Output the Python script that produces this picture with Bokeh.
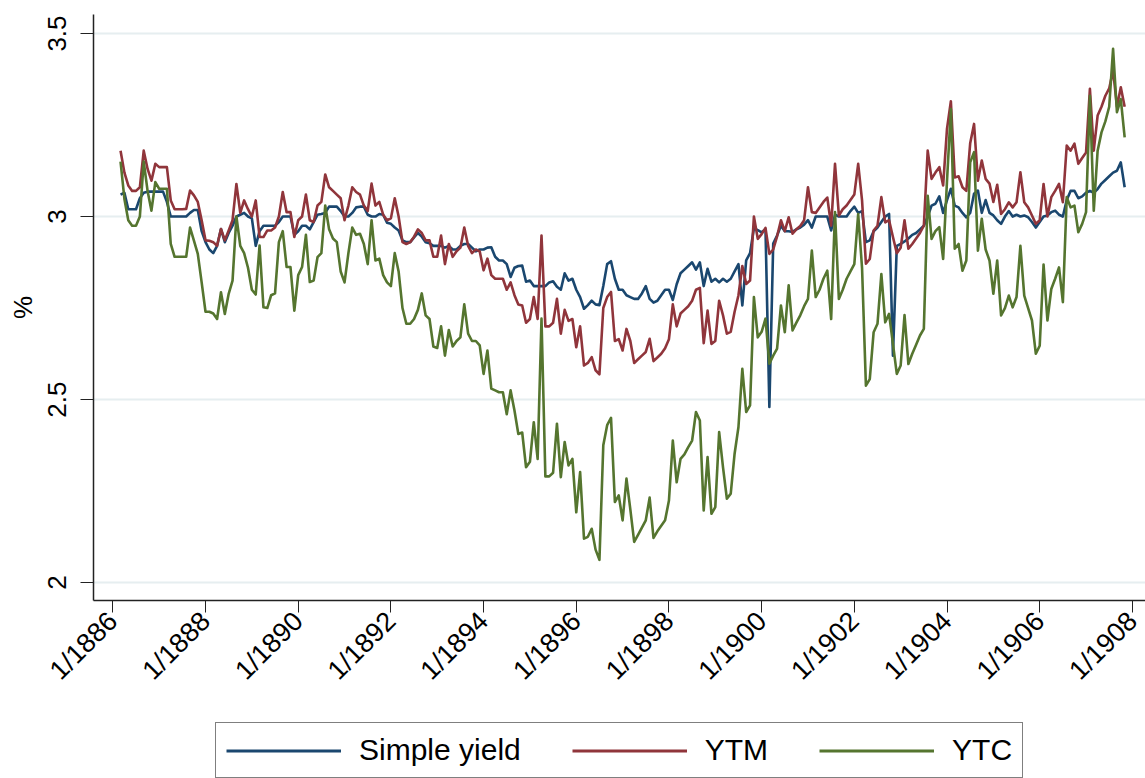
import math
from bokeh.plotting import figure
from bokeh.layouts import column
from bokeh.models import Range1d, FixedTicker, Legend, LegendItem
from bokeh.embed import file_html
from bokeh.resources import INLINE

# ---------------- data (monthly, first observation March 1886) ----------------
first_year = 1886
first_month = 3

simple_yield = [
    3.06, 3.065, 3.02, 3.02, 3.02, 3.05, 3.065, 3.068, 3.068, 3.068,
    3.068, 3.068, 3.04, 3.0, 3.0, 3.0, 3.0, 3.0, 3.01, 3.018,
    3.018, 2.96, 2.93, 2.91, 2.90, 2.92, 2.966, 2.93, 2.955, 2.975,
    3.0, 3.005, 3.01, 3.0, 2.995, 2.92, 2.96, 2.975, 2.975, 2.975,
    2.975, 2.985, 3.0, 3.0, 3.0, 2.95, 2.96, 2.975, 2.975, 2.965,
    2.985, 3.005, 3.007, 3.01, 3.027, 3.027, 3.027, 3.015, 3.0, 3.0,
    3.01, 3.025, 3.027, 3.027, 3.005, 3.0, 3.0, 3.007, 3.005, 2.983,
    2.98, 2.97, 2.962, 2.935, 2.93, 2.93, 2.943, 2.955, 2.945, 2.93,
    2.927, 2.92, 2.92, 2.92, 2.915, 2.92, 2.91, 2.91, 2.92, 2.925,
    2.925, 2.915, 2.905, 2.91, 2.91, 2.915, 2.916, 2.89, 2.88, 2.88,
    2.87, 2.835, 2.86, 2.865, 2.866, 2.822, 2.825, 2.81, 2.81, 2.81,
    2.81, 2.82, 2.823, 2.808, 2.80, 2.845, 2.825, 2.83, 2.80, 2.78,
    2.748, 2.758, 2.77, 2.76, 2.758, 2.81, 2.87, 2.878, 2.83, 2.80,
    2.80, 2.785, 2.78, 2.775, 2.775, 2.79, 2.81, 2.775, 2.765, 2.77,
    2.785, 2.80, 2.80, 2.772, 2.815, 2.845, 2.855, 2.865, 2.875, 2.855,
    2.875, 2.81, 2.857, 2.822, 2.83, 2.82, 2.83, 2.822, 2.83, 2.85,
    2.87, 2.757, 2.88, 2.90, 2.968, 2.963, 2.957, 2.965, 2.48, 2.926,
    2.948, 2.975, 2.96, 2.96, 2.958, 2.965, 2.97, 2.978, 2.99, 2.97,
    3.0, 3.0, 3.0, 3.0, 2.962, 3.005, 3.0, 3.0, 3.0, 3.015,
    3.027, 3.01, 3.015, 2.93, 2.935, 2.96, 2.97, 2.985, 3.0, 3.007,
    2.62, 2.92, 2.925, 2.932, 2.94, 2.95, 2.955, 2.965, 2.975, 3.0,
    3.03, 3.035, 3.055, 3.01, 3.045, 3.076, 3.03, 3.025, 3.01, 2.998,
    3.01, 3.062, 3.071, 3.01, 3.045, 3.01, 3.003, 2.99, 2.98, 3.0,
    3.015, 3.0, 3.005, 3.0, 3.003, 2.998, 2.985, 2.97, 2.985, 3.0,
    3.003, 3.012, 3.016, 3.005, 3.0, 3.045, 3.07, 3.07, 3.05, 3.055,
    3.065, 3.07, 3.065, 3.075, 3.09, 3.10, 3.11, 3.12, 3.125, 3.148,
    3.08,
]

ytm = [
    3.18, 3.12, 3.085, 3.07, 3.07, 3.08, 3.18, 3.13, 3.098, 3.144,
    3.135, 3.135, 3.135, 3.044, 3.02, 3.02, 3.02, 3.021, 3.071, 3.058,
    3.04, 2.99, 2.935, 2.934, 2.93, 2.92, 2.966, 2.935, 2.962, 2.99,
    3.089, 3.01, 3.044, 3.02, 3.0, 3.044, 2.944, 2.944, 2.962, 2.962,
    2.97, 3.0, 3.067, 3.012, 3.012, 2.944, 2.99, 3.0, 3.06, 2.99,
    2.985, 3.03, 3.04, 3.115, 3.08, 3.07, 3.06, 3.05, 2.99, 3.03,
    3.08, 3.067, 3.06, 3.03, 3.015, 3.09, 3.03, 3.04, 3.005, 2.99,
    2.995, 3.05, 3.0, 2.93, 2.925, 2.93, 2.945, 2.965, 2.955, 2.935,
    2.935, 2.89, 2.89, 2.948, 2.87, 2.925, 2.89, 2.905, 2.915, 2.97,
    2.92, 2.90, 2.91, 2.905, 2.853, 2.885, 2.84, 2.83, 2.83, 2.83,
    2.80, 2.82, 2.785, 2.76, 2.757, 2.71, 2.72, 2.78, 2.72, 2.948,
    2.70, 2.70, 2.71, 2.775, 2.68, 2.745, 2.715, 2.72, 2.643, 2.70,
    2.593, 2.60, 2.616, 2.58, 2.569, 2.75, 2.78, 2.794, 2.66, 2.665,
    2.634, 2.693, 2.66, 2.60, 2.61, 2.62, 2.63, 2.666, 2.605, 2.615,
    2.625, 2.64, 2.665, 2.76, 2.70, 2.735, 2.745, 2.755, 2.77, 2.80,
    2.805, 2.654, 2.743, 2.652, 2.66, 2.77, 2.73, 2.68, 2.685, 2.74,
    2.785, 2.865, 2.816, 2.825, 3.0, 2.939, 2.952, 2.969, 2.898, 2.91,
    2.946, 2.99, 2.96, 2.998, 2.953, 2.965, 2.974, 2.99, 3.08, 3.012,
    3.01, 3.025, 3.04, 3.052, 2.975, 3.144, 3.003, 3.02, 3.03, 3.045,
    3.06, 3.144, 3.044, 2.871, 2.884, 2.962, 2.975, 3.053, 2.984, 2.99,
    2.944, 2.90, 2.915, 2.99, 2.912, 2.925, 2.94, 2.955, 2.975, 3.18,
    3.103, 3.12, 3.135, 3.085, 3.24, 3.315, 3.107, 3.11, 3.08, 3.07,
    3.20, 3.253, 3.098, 3.153, 3.103, 3.09, 3.04, 3.087, 3.007, 3.02,
    3.039, 3.025, 3.039, 3.121, 3.039, 3.025, 3.003, 2.98, 2.99, 3.089,
    3.0, 3.053, 3.07, 3.089, 3.039, 3.194, 3.18, 3.199, 3.144, 3.16,
    3.175, 3.349, 3.18, 3.276, 3.30, 3.33, 3.35, 3.40, 3.30, 3.353,
    3.30,
]

ytc = [
    3.15, 3.048, 2.99, 2.975, 2.975, 3.0, 3.15, 3.07, 3.016, 3.094,
    3.076, 3.076, 3.076, 2.925, 2.89, 2.89, 2.89, 2.89, 2.97, 2.934,
    2.898, 2.82, 2.74, 2.74, 2.735, 2.72, 2.793, 2.734, 2.789, 2.825,
    3.0, 2.92, 2.90, 2.86, 2.80, 2.787, 2.921, 2.752, 2.75, 2.785,
    2.79, 2.93, 2.96, 2.862, 2.862, 2.743, 2.84, 2.862, 2.95, 2.821,
    2.825, 2.889, 2.90, 3.03, 2.965, 2.94, 2.93, 2.85, 2.82, 2.90,
    2.97, 2.95, 2.953, 2.925, 2.87, 2.99, 2.88, 2.885, 2.84, 2.82,
    2.81, 2.90, 2.85, 2.75, 2.707, 2.707, 2.72, 2.745, 2.79, 2.73,
    2.72, 2.645, 2.641, 2.70, 2.62, 2.69, 2.645, 2.66, 2.67, 2.76,
    2.68, 2.66, 2.66, 2.648, 2.57, 2.634, 2.53, 2.525, 2.52, 2.52,
    2.46, 2.525, 2.47, 2.406, 2.41, 2.315, 2.33, 2.438, 2.338, 2.721,
    2.29, 2.29, 2.30, 2.434, 2.288, 2.384, 2.32, 2.338, 2.192, 2.302,
    2.12, 2.125, 2.147, 2.09, 2.062, 2.375, 2.43, 2.45, 2.22, 2.238,
    2.17, 2.284, 2.20, 2.111, 2.13, 2.15, 2.17, 2.232, 2.122, 2.14,
    2.155, 2.17, 2.224, 2.388, 2.274, 2.338, 2.35, 2.37, 2.388, 2.466,
    2.443, 2.197, 2.343, 2.188, 2.206, 2.411, 2.315, 2.229, 2.243, 2.352,
    2.425, 2.584, 2.466, 2.484, 2.78, 2.67, 2.685, 2.721, 2.598, 2.62,
    2.639, 2.757, 2.684, 2.812, 2.689, 2.71, 2.73, 2.755, 2.775, 2.907,
    2.78, 2.80, 2.83, 2.852, 2.72, 3.012, 2.775, 2.80, 2.83, 2.85,
    2.87, 3.007, 2.86, 2.538, 2.556, 2.684, 2.707, 2.843, 2.711, 2.734,
    2.652, 2.57, 2.593, 2.731, 2.597, 2.625, 2.65, 2.675, 2.693, 3.057,
    2.939, 2.96, 2.971, 2.884, 3.098, 3.294, 2.912, 2.925, 2.852, 2.88,
    3.148, 3.176, 2.907, 2.994, 2.91, 2.88, 2.789, 2.88, 2.73, 2.75,
    2.784, 2.752, 2.78, 2.92, 2.784, 2.75, 2.716, 2.625, 2.647, 2.869,
    2.716, 2.802, 2.83, 2.861, 2.766, 3.053, 3.025, 3.03, 2.957, 2.98,
    3.012, 3.33, 3.016, 3.18, 3.23, 3.26, 3.30, 3.458, 3.285, 3.321,
    3.216,
]

series_names = ["Simple yield", "YTM", "YTC"]
series_colors = ["#1a476f", "#90353b", "#55752f"]

x_ticks = [1886, 1888, 1890, 1892, 1894, 1896, 1898, 1900, 1902, 1904, 1906, 1908]
x_tick_labels = ["1/1886", "1/1888", "1/1890", "1/1892", "1/1894", "1/1896",
                 "1/1898", "1/1900", "1/1902", "1/1904", "1/1906", "1/1908"]
y_ticks = [2, 2.5, 3, 3.5]
y_tick_labels = ["2", "2.5", "3", "3.5"]
y_title = "%"

assert len(simple_yield) == len(ytm) == len(ytc), (len(simple_yield), len(ytm), len(ytc))

n = len(simple_yield)
x = [first_year + (first_month - 1 + i) / 12.0 for i in range(n)]
series_values = [simple_yield, ytm, ytc]

FONT = "Liberation Sans"

# ---------------- main chart ----------------
p = figure(
    frame_width=1052, frame_height=586,
    x_range=Range1d(1885.583, 1908.283),
    y_range=Range1d(1.951, 3.552),
    output_backend="svg", toolbar_location=None,
    min_border_left=93, min_border_right=0, min_border_top=14, min_border_bottom=115,
    background_fill_color="white", border_fill_color="white",
)
p.outline_line_color = None

xa = p.xaxis[0]
xa.ticker = FixedTicker(ticks=x_ticks)
xa.major_label_overrides = {t: l for t, l in zip(x_ticks, x_tick_labels)}
xa.major_label_orientation = math.pi / 4
xa.minor_tick_line_color = None
xa.major_tick_in = 0
xa.major_tick_out = 12
xa.major_tick_line_color = "#222222"
xa.axis_line_color = "#222222"
xa.axis_line_width = 1.5
xa.major_label_text_font = FONT
xa.major_label_text_font_size = "27px"
xa.major_label_text_color = "black"
xa.major_label_standoff = 4

ya = p.yaxis[0]
ya.ticker = FixedTicker(ticks=y_ticks)
ya.major_label_overrides = {t: l for t, l in zip(y_ticks, y_tick_labels)}
ya.major_label_orientation = "vertical"
ya.minor_tick_line_color = None
ya.major_tick_in = 0
ya.major_tick_out = 13
ya.major_tick_line_color = "#222222"
ya.axis_line_color = "#222222"
ya.axis_line_width = 1.5
ya.major_label_text_font = FONT
ya.major_label_text_font_size = "26px"
ya.major_label_text_color = "black"
ya.major_label_standoff = 14
ya.axis_label = y_title
ya.axis_label_text_font = FONT
ya.axis_label_text_font_size = "26px"
ya.axis_label_text_font_style = "normal"
ya.axis_label_text_color = "black"
ya.axis_label_standoff = 8

p.xgrid.visible = False
p.ygrid.ticker = FixedTicker(ticks=y_ticks)
p.ygrid.grid_line_color = "#e6eef0"
p.ygrid.grid_line_width = 2

for vals, col in zip(series_values, series_colors):
    p.line(x, vals, line_color=col, line_width=2.6, line_join="round")

# ---------------- legend strip (below the chart) ----------------
lg = figure(
    width=1145, height=63,
    x_range=Range1d(1885.583, 1908.283), y_range=Range1d(1.951, 3.552),
    output_backend="svg", toolbar_location=None,
    x_axis_location=None, y_axis_location=None,
    min_border_left=0, min_border_right=0, min_border_top=0, min_border_bottom=0,
    background_fill_color="white", border_fill_color="white",
)
lg.outline_line_color = None
lg.xgrid.visible = False
lg.ygrid.visible = False

legend_renderers = []
for vals, col in zip(series_values, series_colors):
    r = lg.line(x, vals, line_color=col, line_width=3, visible=False)
    legend_renderers.append(r)

legend = Legend(
    items=[LegendItem(label=nm, renderers=[r]) for nm, r in zip(series_names, legend_renderers)],
    orientation="horizontal",
    location=(122, 0),
    click_policy="none",
    glyph_width=115, glyph_height=33, label_height=33,
    label_standoff=18, spacing=51, padding=10, margin=0,
    border_line_color="black", border_line_width=1.5,
    background_fill_color="white", background_fill_alpha=1.0,
    label_text_font=FONT, label_text_font_size="30px", label_text_color="black",
)
lg.add_layout(legend)

layout = column(p, lg, spacing=0)

open("out.html", "w").write(file_html(layout, INLINE))
